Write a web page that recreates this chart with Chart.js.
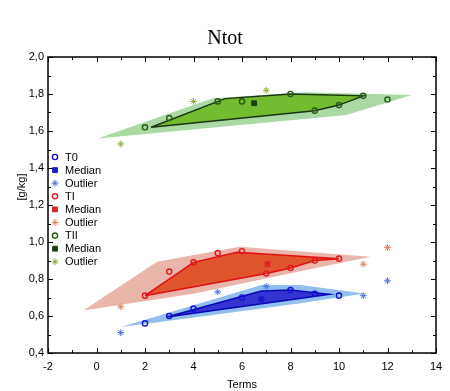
<!DOCTYPE html>
<html>
<head>
<meta charset="utf-8">
<script src="https://cdn.jsdelivr.net/npm/chart.js@4"></script>
<style>
html,body{margin:0;padding:0;background:#fff;}
#wrap{width:450px;height:391px;position:relative;}
</style>
</head>
<body>
<div id="wrap"><canvas id="c" width="450" height="391"></canvas></div>
<script>
// ---- data ----
const xTicks = [-2, 0, 2, 4, 6, 8, 10, 12, 14];
const yTicks = [0.4, 0.6, 0.8, 1.0, 1.2, 1.4, 1.6, 1.8, 2.0];

// T0
const t0Terms = [2, 3, 4, 6, 8, 9, 10];
const t0Values = [0.56, 0.60, 0.64, 0.70, 0.74, 0.72, 0.71];
const t0MedianTerm = [6.8];
const t0MedianValue = [0.69];
const t0OutlierTerms = [1, 5, 7, 11, 12];
const t0OutlierValues = [0.51, 0.73, 0.76, 0.71, 0.79];
const t0BagTerms = [2.9, 6.8, 8, 9.6, 2.9];
const t0BagValues = [0.595, 0.735, 0.74, 0.717, 0.595];
const t0FenceTerms = [1.0, 6.8, 8.4, 11.05, 8.4, 3.8, 1.0];
const t0FenceValues = [0.54, 0.768, 0.768, 0.722, 0.669, 0.588, 0.54];

// TI
const tiTerms = [2, 3, 4, 5, 6, 7, 8, 9, 10];
const tiValues = [0.71, 0.84, 0.89, 0.94, 0.95, 0.83, 0.86, 0.90, 0.91];
const tiMedianTerm = [7.05];
const tiMedianValue = [0.88];
const tiOutlierTerms = [1, 11, 12];
const tiOutlierValues = [0.65, 0.88, 0.97];
const tiBagTerms = [2, 4, 5.8, 10, 9, 8, 7, 2];
const tiBagValues = [0.71, 0.89, 0.945, 0.91, 0.90, 0.86, 0.83, 0.71];
const tiFenceTerms = [-0.55, 2.5, 5.9, 11.3, 8.35, 4.0, -0.55];
const tiFenceValues = [0.63, 0.893, 0.975, 0.92, 0.84, 0.72, 0.63];

// TII
const tiiTerms = [2, 3, 5, 6, 8, 9, 10, 11, 12];
const tiiValues = [1.62, 1.67, 1.76, 1.76, 1.80, 1.71, 1.74, 1.79, 1.77];
const tiiMedianTerm = [6.5];
const tiiMedianValue = [1.75];
const tiiOutlierTerms = [1, 4, 7];
const tiiOutlierValues = [1.53, 1.76, 1.82];
const tiiBagTerms = [2.25, 5.3, 8, 11, 10, 9, 2.25];
const tiiBagValues = [1.62, 1.775, 1.80, 1.79, 1.74, 1.71, 1.62];
const tiiFenceTerms = [0.05, 4.8, 8.6, 13.0, 10.3, 0.05];
const tiiFenceValues = [1.56, 1.777, 1.81, 1.795, 1.686, 1.56];

const legendLabels = ['T0', 'Median', 'Outlier', 'TI', 'Median', 'Outlier', 'TII', 'Median', 'Outlier'];

// ---- helpers ----
const pts = (xs, ys) => xs.map((x, i) => ({x: x, y: ys[i]}));
const FONT = "'Liberation Sans', Arial, sans-serif";

function polygon(xs, ys, fillColor, lineColor, lineWidth, order) {
  return {
    data: pts(xs, ys), showLine: true, fill: 'shape', tension: 0,
    backgroundColor: fillColor, borderColor: lineColor, borderWidth: lineWidth,
    pointRadius: 0, order: order, inLegend: false
  };
}
function markers(label, xs, ys, style, radius, color, fill, bw) {
  return {
    label: label, data: pts(xs, ys), showLine: false,
    pointStyle: style, pointRadius: radius, pointBorderColor: color,
    pointBackgroundColor: fill, pointBorderWidth: bw,
    borderColor: color, backgroundColor: fill, order: 0, inLegend: true
  };
}

const datasets = [
  markers(legendLabels[0], t0Terms, t0Values, 'circle', 2.6, '#1212d2', 'rgba(0,0,0,0)', 1.4),
  markers(legendLabels[1], t0MedianTerm, t0MedianValue, 'rect', 3.4, '#1a1ac4', '#1a1ac4', 1),
  markers(legendLabels[2], t0OutlierTerms, t0OutlierValues, 'star', 3.4, '#4f6ee0', '#4f6ee0', 1),
  markers(legendLabels[3], tiTerms, tiValues, 'circle', 2.6, '#e01c1c', 'rgba(0,0,0,0)', 1.4),
  markers(legendLabels[4], tiMedianTerm, tiMedianValue, 'rect', 3.4, '#e02424', '#e02424', 1),
  markers(legendLabels[5], tiOutlierTerms, tiOutlierValues, 'star', 3.4, '#e0805c', '#e0805c', 1),
  markers(legendLabels[6], tiiTerms, tiiValues, 'circle', 2.6, '#2a5a14', 'rgba(0,0,0,0)', 1.4),
  markers(legendLabels[7], tiiMedianTerm, tiiMedianValue, 'rect', 3.4, '#1e3e16', '#1e3e16', 1),
  markers(legendLabels[8], tiiOutlierTerms, tiiOutlierValues, 'star', 3.4, '#8cb040', '#8cb040', 1),
  polygon(t0BagTerms, t0BagValues, '#3434d2', '#0a0ab4', 1.5, 1),
  polygon(tiBagTerms, tiBagValues, '#e0542e', '#e01010', 1.5, 1),
  polygon(tiiBagTerms, tiiBagValues, '#72bc30', '#1c3414', 1.5, 1),
  polygon(t0FenceTerms, t0FenceValues, '#92bff0', 'rgba(0,0,0,0)', 0, 2),
  polygon(tiFenceTerms, tiFenceValues, '#eab6ac', 'rgba(0,0,0,0)', 0, 2),
  polygon(tiiFenceTerms, tiiFenceValues, '#aad9a4', 'rgba(0,0,0,0)', 0, 2)
];

const decorPlugin = {
  id: 'decor',
  afterDraw(chart) {
    const ctx = chart.ctx;
    const a = chart.chartArea;
    const xs = chart.scales.x, ys = chart.scales.y;
    ctx.save();
    // frame
    ctx.strokeStyle = '#000';
    ctx.lineWidth = 1.5;
    ctx.strokeRect(a.left, a.top, a.right - a.left, a.bottom - a.top);
    // inward ticks on four sides
    ctx.lineWidth = 1;
    ctx.beginPath();
    for (let v = xs.min; v <= xs.max + 1e-9; v += 1) {
      const px = Math.round(xs.getPixelForValue(v)) + 0.5;
      const len = (Math.round(v) % 2 === 0) ? 5 : 3;
      ctx.moveTo(px, a.bottom); ctx.lineTo(px, a.bottom - len);
      ctx.moveTo(px, a.top); ctx.lineTo(px, a.top + len);
    }
    for (let k = 0; k <= 16; k++) {
      const v = ys.min + k * 0.1;
      const py = Math.round(ys.getPixelForValue(v)) + 0.5;
      const len = (k % 2 === 0) ? 5 : 3;
      ctx.moveTo(a.left, py); ctx.lineTo(a.left + len, py);
      ctx.moveTo(a.right, py); ctx.lineTo(a.right - len, py);
    }
    ctx.stroke();

    // title
    ctx.fillStyle = '#000';
    ctx.textAlign = 'center';
    ctx.textBaseline = 'alphabetic';
    ctx.font = "20px 'Liberation Serif', 'Times New Roman', serif";
    ctx.fillText('Ntot', 225, 44);
    // axis titles
    ctx.font = '11px ' + FONT;
    ctx.textBaseline = 'middle';
    ctx.fillText('Terms', (a.left + a.right) / 2, 385);
    ctx.save();
    ctx.translate(22, 187);
    ctx.rotate(-Math.PI / 2);
    ctx.fillText('[g/kg]', 0, 0);
    ctx.restore();

    // legend inside plot
    const items = chart.data.datasets.filter(d => d.inLegend);
    ctx.textAlign = 'left';
    items.forEach((d, i) => {
      const y = 157 + i * 13.1;
      ctx.strokeStyle = d.pointBorderColor;
      ctx.fillStyle = d.pointBackgroundColor;
      ctx.lineWidth = d.pointBorderWidth;
      Chart.helpers.drawPoint(ctx, {pointStyle: d.pointStyle, radius: d.pointRadius, rotation: 0, borderWidth: d.pointBorderWidth}, 55, y);
      ctx.fillStyle = '#000';
      ctx.fillText(d.label, 65, y + 0.5);
    });
    ctx.restore();
  }
};

new Chart(document.getElementById('c'), {
  type: 'scatter',
  data: {datasets: datasets},
  options: {
    responsive: false,
    animation: false,
    events: [],
    layout: {padding: {top: 57, right: 14, left: 0, bottom: 0}},
    plugins: {legend: {display: false}, tooltip: {enabled: false}, title: {display: false}},
    scales: {
      x: {
        type: 'linear', min: xTicks[0], max: xTicks[xTicks.length - 1],
        afterFit: s => { s.height = 38; },
        afterBuildTicks: s => { s.ticks = xTicks.map(v => ({value: v})); },
        grid: {display: false, drawTicks: false},
        border: {display: false},
        ticks: {padding: 7, color: '#000', font: {family: FONT, size: 11}, maxRotation: 0,
                callback: v => String(v)}
      },
      y: {
        type: 'linear', min: yTicks[0], max: yTicks[yTicks.length - 1],
        afterFit: s => { s.width = 48; },
        afterBuildTicks: s => { s.ticks = yTicks.map(v => ({value: v})); },
        grid: {display: false, drawTicks: false},
        border: {display: false},
        ticks: {padding: 4, color: '#000', font: {family: FONT, size: 11},
                callback: v => Number(v).toFixed(1).replace('.', ',')}
      }
    }
  },
  plugins: [decorPlugin]
});
</script>
</body>
</html>
